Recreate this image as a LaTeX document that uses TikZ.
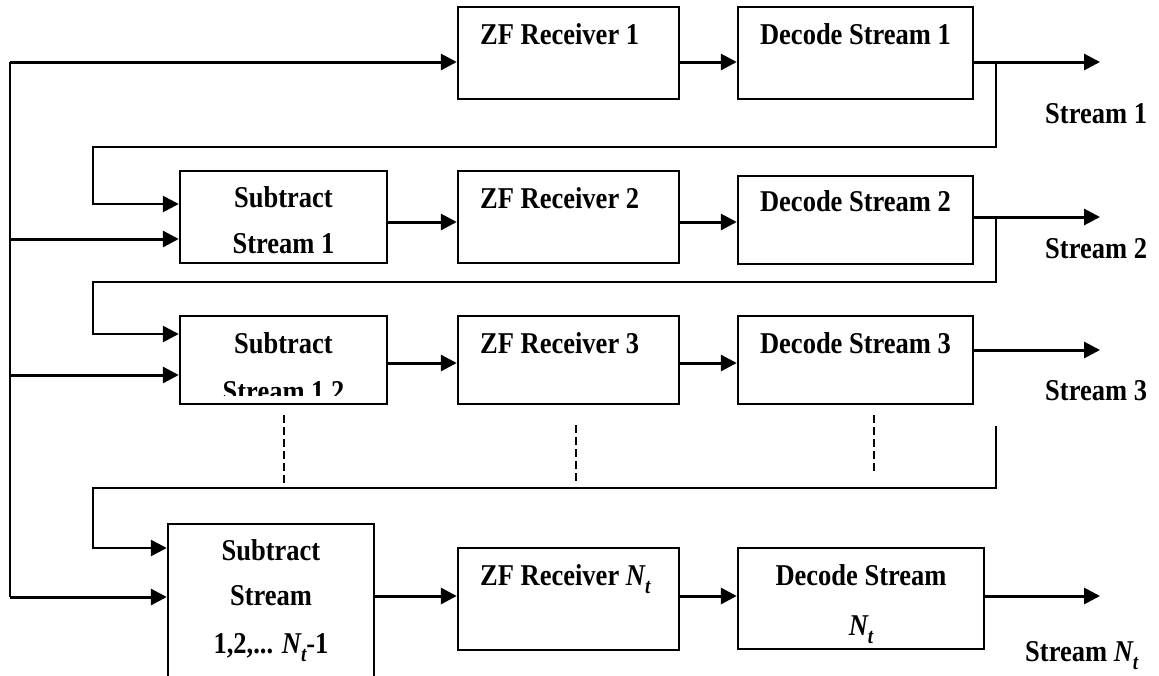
\documentclass[tikz,border=0pt]{standalone}
\usepackage{fontspec}
\setmainfont{Liberation Serif}
\usetikzlibrary{arrows.meta}

% slightly tall bold lettering
\newcommand{\st}[1]{\scalebox{1}[1.14]{#1}}
% italic N with subscript t
\newcommand{\Nt}{{\itshape N}\raisebox{-0.28em}{\fontsize{19}{19}\selectfont\itshape t}}

\begin{document}
\begin{tikzpicture}[x=1pt,y=-1pt,
  box/.style={draw, line width=2.4pt, inner sep=0pt},
  lbl/.style={font=\fontsize{26.5}{30}\selectfont\bfseries, inner sep=0pt, anchor=base},
  lblw/.style={lbl, anchor=base west},
  wire/.style={line width=2.4pt},
  arr/.style={line width=3pt, -{Triangle[length=16pt,width=16pt]}},
  fb/.style={line width=2.6pt, -{Triangle[length=16pt,width=16pt]}},
  dots/.style={line width=2.4pt, dash pattern=on 8pt off 4pt}]

\clip (0,0) rectangle (1159,675);

% ---- processing blocks ----
\node[box, minimum width=221pt, minimum height=92pt]  (zf1)  at (568.5,53)  {};
\node[box, minimum width=235pt, minimum height=92pt]  (dec1) at (855.5,53)  {};

\node[box, minimum width=207pt, minimum height=92pt]  (sub1) at (283.5,217) {};
\node[box, minimum width=221pt, minimum height=92pt]  (zf2)  at (568.5,217) {};
\node[box, minimum width=235pt, minimum height=88pt]  (dec2) at (855.5,220) {};

\node[box, minimum width=207pt, minimum height=88pt]  (sub2) at (283.5,360) {};
\node[box, minimum width=221pt, minimum height=88pt]  (zf3)  at (568.5,360) {};
\node[box, minimum width=235pt, minimum height=88pt]  (dec3) at (855.5,360) {};

\node[box, minimum width=206pt, minimum height=176pt] (subN) at (271,612)   {};
\node[box, minimum width=221pt, minimum height=102pt] (zfN)  at (568.5,599) {};
\node[box, minimum width=246pt, minimum height=101pt] (decN) at (861,598.5) {};

% ---- block texts ----
\node[lblw] (zf1t)  at (480,44)  {\st{ZF Receiver 1}};
\node[lbl]  (dec1t) at (855.5,44) {\st{Decode Stream 1}};

\node[lbl]  (sub1a) at (283.5,207) {\st{Subtract}};
\node[lbl]  (sub1b) at (283.5,253) {\st{Stream 1}};
\node[lblw] (zf2t)  at (480,208) {\st{ZF Receiver 2}};
\node[lbl]  (dec2t) at (855.5,211) {\st{Decode Stream 2}};

\node[lbl]  (sub2a) at (283.5,353) {\st{Subtract}};
\begin{scope}
  \clip (180,316) rectangle (387,395);
  \node[lbl] (sub2b) at (283.5,401) {\st{Stream 1,2}};
\end{scope}
\node[lblw] (zf3t)  at (480,353) {\st{ZF Receiver 3}};
\node[lbl]  (dec3t) at (855.5,353) {\st{Decode Stream 3}};

\node[lbl]  (subNa) at (271,560) {\st{Subtract}};
\node[lbl]  (subNb) at (271,605) {\st{Stream}};
\node[lbl]  (subNc) at (271,653) {\st{1,2,... \Nt-1}};
\node[lblw] (zfNt)  at (480,585) {\st{ZF Receiver \Nt}};
\node[lbl]  (decNa) at (861,585) {\st{Decode Stream}};
\node[lbl]  (decNb) at (861,635) {\st{\Nt}};

% ---- output labels ----
\node[lblw] (s1) at (1045,123) {\st{Stream 1}};
\node[lblw] (s2) at (1045,258) {\st{Stream 2}};
\node[lblw] (s3) at (1045,400) {\st{Stream 3}};
\node[lblw] (sN) at (1025,661) {\st{Stream \Nt}};

% ---- input bus ----
\coordinate (b1) at (10,62);
\coordinate (b2) at (10,239);
\coordinate (b3) at (10,375);
\coordinate (b4) at (10,597);
\draw[wire] (b1) -- (b4);
\draw[arr] (b1) -- (b1 -| zf1.west);
\draw[arr] (b2) -- (b2 -| sub1.west);
\draw[arr] (b3) -- (b3 -| sub2.west);
\draw[arr] (b4) -- (b4 -| subN.west);

% ---- forward paths ----
\coordinate (y1) at (0,62);
\coordinate (y2) at (0,222);
\coordinate (y3) at (0,363);
\coordinate (yN) at (0,596);
\draw[arr] (zf1.east |- y1) -- (dec1.west |- y1);
\draw[arr] (sub1.east |- y2) -- (zf2.west |- y2);
\draw[arr] (zf2.east |- y2) -- (dec2.west |- y2);
\draw[arr] (sub2.east |- y3) -- (zf3.west |- y3);
\draw[arr] (zf3.east |- y3) -- (dec3.west |- y3);
\draw[arr] (subN.east |- yN) -- (zfN.west |- yN);
\draw[arr] (zfN.east |- yN) -- (decN.west |- yN);

% ---- outputs ----
\coordinate (o1) at (1100,62);
\coordinate (o2) at (1100,217);
\coordinate (o3) at (1100,350);
\coordinate (oN) at (1100,596);
\draw[arr] (dec1.east |- o1) -- (o1);
\draw[arr] (dec2.east |- o2) -- (o2);
\draw[arr] (dec3.east |- o3) -- (o3);
\draw[arr] (decN.east |- oN) -- (oN);

% ---- feedback of decoded streams ----
\coordinate (t1) at (996,62);
\coordinate (h1) at (93,147);
\coordinate (e1) at (93,204);
\draw[fb] (t1) |- (h1) -- (e1) -- (e1 -| sub1.west);

\coordinate (t2) at (996,217);
\coordinate (h2) at (93,282);
\coordinate (e2) at (93,334);
\draw[fb] (t2) |- (h2) -- (e2) -- (e2 -| sub2.west);

\coordinate (t3) at (996,426);
\coordinate (h3) at (93,488);
\coordinate (e3) at (93,548);
\draw[fb] (t3) |- (h3) -- (e3) -- (e3 -| subN.west);

% ---- continuation marks ----
\coordinate (d1a) at (284,415); \coordinate (d1b) at (284,483);
\coordinate (d2a) at (576,425); \coordinate (d2b) at (576,483);
\coordinate (d3a) at (874,415); \coordinate (d3b) at (874,473);
\draw[dots] (d1a) -- (d1b);
\draw[dots] (d2a) -- (d2b);
\draw[dots] (d3a) -- (d3b);
\end{tikzpicture}
\end{document}
